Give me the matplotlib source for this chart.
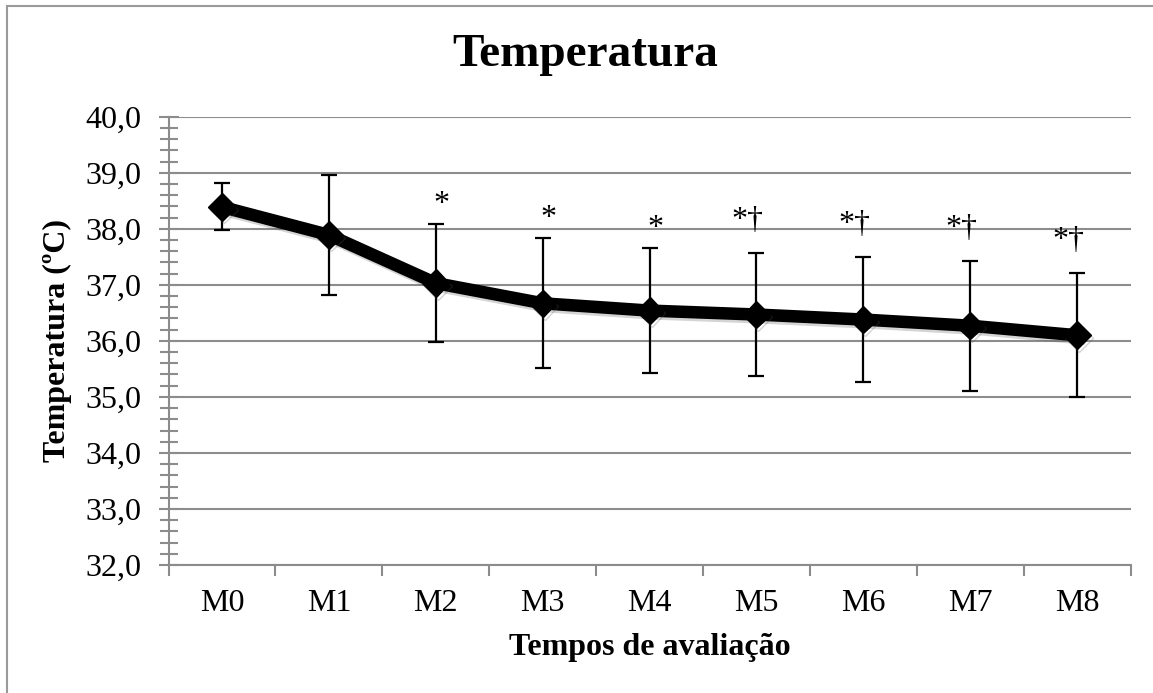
import numpy as np
import matplotlib
matplotlib.use("Agg")
from matplotlib import pyplot as plt
from matplotlib import patheffects as pe
from matplotlib.patches import Rectangle
from matplotlib.ticker import MultipleLocator, FixedLocator, FuncFormatter

plt.rcParams['font.family'] = ['Liberation Serif', 'DejaVu Serif']

# Data
tempos = ['M0', 'M1', 'M2', 'M3', 'M4', 'M5', 'M6', 'M7', 'M8']
media = [38.39, 37.89, 37.03, 36.67, 36.54, 36.47, 36.38, 36.27, 36.10]
desvio = [0.42, 1.07, 1.05, 1.16, 1.11, 1.10, 1.12, 1.16, 1.11]
marcas = ['', '', '*', '*', '*', '*\u2020', '*\u2020', '*\u2020', '*\u2020']

W, H = 1153, 693
fig = plt.figure(figsize=(W / 100, H / 100), dpi=100)
ax = fig.add_axes([168.5 / W, 1 - 565 / H, 962 / W, 448.3 / H])

x = np.arange(len(tempos))
grey = '#8c8c8c'

# error bars under the line
ax.errorbar(x, media, yerr=desvio, fmt='none', ecolor='black',
            elinewidth=1.6, capsize=6, capthick=1.6, zorder=3)
shadow = [pe.SimpleLineShadow(offset=(1.5, -2), shadow_color='#555555', alpha=0.25),
          pe.Normal()]
ax.plot(x, media, color='black', lw=9, marker='D', markersize=14,
        solid_joinstyle='round', zorder=4, path_effects=shadow)

# significance marks above each error bar
for i, m in enumerate(marcas):
    if not m:
        continue
    if len(m) == 1:
        ax.annotate(m, (x[i], media[i] + desvio[i]), xytext=(4, 9),
                    textcoords='offset points', ha='center', va='baseline',
                    fontsize=23)
    else:
        ax.annotate(m, (x[i], media[i] + desvio[i]), xytext=(5, 18),
                    textcoords='offset points', ha='right', va='baseline',
                    fontsize=23)

ax.set_xlim(-0.5, len(tempos) - 0.5)
ax.set_ylim(32, 40)

# y axis: major ticks each 1, minor each 0.2, crossing the axis line
ax.yaxis.set_major_locator(MultipleLocator(1))
ax.yaxis.set_minor_locator(MultipleLocator(0.2))
ax.yaxis.set_major_formatter(FuncFormatter(lambda v, p: f'{v:.1f}'.replace('.', ',')))
ax.tick_params(axis='y', which='major', direction='inout', length=15, width=1.5,
               color=grey, labelsize=23, pad=12)
ax.tick_params(axis='y', which='minor', direction='inout', length=13, width=1.5,
               color=grey)

# x axis: tick marks between categories, labels at categories
ax.xaxis.set_major_locator(FixedLocator(np.arange(-0.5, len(tempos), 1)))
ax.xaxis.set_major_formatter(FuncFormatter(lambda v, p: ''))
ax.xaxis.set_minor_locator(FixedLocator(x))
ax.set_xticklabels(tempos, minor=True)
ax.tick_params(axis='x', which='major', direction='out', length=8, width=1.5, color=grey)
ax.tick_params(axis='x', which='minor', length=0, labelsize=23, pad=17)

ax.grid(axis='y', which='major', color=grey, lw=1.5, zorder=1)
for s in ['top', 'right']:
    ax.spines[s].set_visible(False)
for s in ['left', 'bottom']:
    ax.spines[s].set_color(grey)
    ax.spines[s].set_linewidth(1.5)

ax.set_xlabel('Tempos de avalia\u00e7\u00e3o', fontsize=23, fontweight='bold')
ax.xaxis.set_label_coords(0.5, -0.152)
ax.set_ylabel('Temperatura (\u00baC)', fontsize=23, fontweight='bold')
ax.yaxis.set_label_coords(-0.100, 0.5)

fig.text(585 / W, 1 - 55 / H, 'Temperatura', fontsize=34, fontweight='bold',
         ha='center', va='center')

# outer chart frame (only left and top edges visible)
fig.patches.append(Rectangle((7 / W, -0.1), 1.2, 1.1 - 6 / H, transform=fig.transFigure,
                             fill=False, edgecolor='#9a9a9a', lw=1.5))

fig.savefig('out.png', dpi=100)
